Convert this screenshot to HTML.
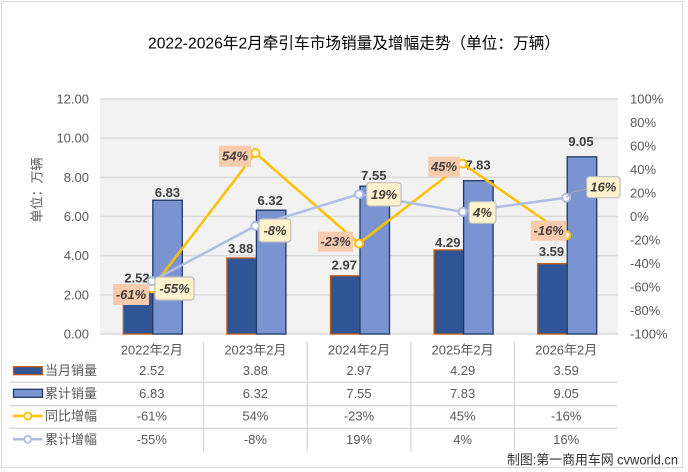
<!DOCTYPE html>
<html><head><meta charset="utf-8"><style>
html,body{margin:0;padding:0;background:#fff;}
svg{display:block;}
text{font-family:"Liberation Sans","Noto Sans CJK SC",sans-serif;}
</style></head><body>
<svg width="688" height="472" viewBox="0 0 688 472" xmlns="http://www.w3.org/2000/svg">
<rect x="0" y="0" width="688" height="472" fill="#fff"/>
<rect x="1.5" y="1.5" width="681" height="466" fill="#fff" stroke="#D9D9D9" stroke-width="1"/>
<!-- title -->
<text x="148" y="44" font-size="16" fill="#000" dominant-baseline="central" textLength="412" lengthAdjust="spacingAndGlyphs">2022-2026年2月牵引车市场销量及增幅走势（单位：万辆）</text>
<!-- plot bg -->
<rect x="100" y="99" width="518" height="235" fill="#F2F2F2"/>
<g stroke="#D9D9D9" stroke-width="1.5">
<line x1="100" y1="99" x2="618" y2="99"/>
<line x1="100" y1="138.17" x2="618" y2="138.17"/>
<line x1="100" y1="177.33" x2="618" y2="177.33"/>
<line x1="100" y1="216.5" x2="618" y2="216.5"/>
<line x1="100" y1="255.67" x2="618" y2="255.67"/>
<line x1="100" y1="294.83" x2="618" y2="294.83"/>
<line x1="100" y1="334" x2="618" y2="334"/>
</g>
<!-- left axis labels -->
<g font-size="13" fill="#595959" text-anchor="end" dominant-baseline="central">
<text x="89" y="99">12.00</text>
<text x="89" y="138.17">10.00</text>
<text x="89" y="177.33">8.00</text>
<text x="89" y="216.5">6.00</text>
<text x="89" y="255.67">4.00</text>
<text x="89" y="294.83">2.00</text>
<text x="89" y="334">0.00</text>
</g>
<!-- right axis labels -->
<g font-size="13" fill="#595959" dominant-baseline="central">
<text x="630" y="99">100%</text>
<text x="630" y="122.5">80%</text>
<text x="630" y="146">60%</text>
<text x="630" y="169.5">40%</text>
<text x="630" y="193">20%</text>
<text x="630" y="216.5">0%</text>
<text x="630" y="240">-20%</text>
<text x="630" y="263.5">-40%</text>
<text x="630" y="287">-60%</text>
<text x="630" y="310.5">-80%</text>
<text x="630" y="334">-100%</text>
</g>
<!-- y axis title -->
<text transform="translate(37,190) rotate(-90)" font-size="13" fill="#595959" text-anchor="middle" dominant-baseline="central">单位：万辆</text>
<!-- bars dark -->
<g fill="#2F5597" stroke="#C55A11" stroke-width="1.3">
<rect x="123.3" y="284.65" width="29.5" height="49.35"/>
<rect x="226.9" y="258.0" width="29.5" height="76"/>
<rect x="330.5" y="275.8" width="29.5" height="58.2"/>
<rect x="434.1" y="250.0" width="29.5" height="84"/>
<rect x="537.7" y="263.7" width="29.5" height="70.3"/>
</g>
<!-- bars light -->
<g fill="#7A93D1" stroke="#1F3864" stroke-width="1.3">
<rect x="152.8" y="200.25" width="29.5" height="133.75"/>
<rect x="256.4" y="210.2" width="29.5" height="123.8"/>
<rect x="360" y="186.15" width="29.5" height="147.85"/>
<rect x="463.6" y="180.7" width="29.5" height="153.3"/>
<rect x="567.2" y="156.8" width="29.5" height="177.2"/>
</g>
<!-- bar value labels -->
<g font-size="13" font-weight="bold" fill="#404040" text-anchor="middle" dominant-baseline="central">
<text x="137" y="278">2.52</text>
<text x="167.5" y="192.3">6.83</text>
<text x="240.7" y="248.3">3.88</text>
<text x="270.2" y="200.7">6.32</text>
<text x="344.3" y="265">2.97</text>
<text x="373.8" y="175.7">7.55</text>
<text x="447.8" y="242.3">4.29</text>
<text x="478" y="165">7.83</text>
<text x="551.5" y="251.7">3.59</text>
<text x="581" y="141.7">9.05</text>
</g>
<!-- yoy line -->
<polyline points="151.8,288.2 255.4,153.05 359,243.5 462.6,163.6 566.2,235.3" fill="none" stroke="#FFC000" stroke-width="2.5" stroke-linejoin="round"/>
<g fill="#fff" stroke="#FFC000" stroke-width="2">
<circle cx="151.8" cy="288.2" r="4"/>
<circle cx="255.4" cy="153.05" r="4"/>
<circle cx="359" cy="243.5" r="4"/>
<circle cx="462.6" cy="163.6" r="4"/>
<circle cx="566.2" cy="235.3" r="4"/>
</g>
<!-- cumulative line -->
<polyline points="151.8,281.1 255.4,225.9 359,194.2 462.6,211.8 566.2,197.7" fill="none" stroke="#AFBDE3" stroke-width="2.5" stroke-linejoin="round"/>
<g fill="#fff" stroke="#AFBDE3" stroke-width="2">
<circle cx="151.8" cy="281.1" r="4"/>
<circle cx="255.4" cy="225.9" r="4"/>
<circle cx="359" cy="194.2" r="4"/>
<circle cx="462.6" cy="211.8" r="4"/>
<circle cx="566.2" cy="197.7" r="4"/>
</g>
<!-- leader line for 16% -->
<polyline points="566.2,197.7 573.3,191.7 587,189" fill="none" stroke="#A6A6A6" stroke-width="1"/>
<!-- yoy labels -->
<g fill="#F8CBAD">
<rect x="113" y="284" width="36" height="21"/>
<rect x="219" y="145.7" width="32" height="21"/>
<rect x="318" y="231.7" width="35" height="20"/>
<rect x="428.3" y="156.7" width="31.7" height="20"/>
<rect x="530.7" y="220.7" width="36" height="20"/>
</g>
<g fill="#FFF2CC" stroke="#BFBFBF" stroke-width="1.2">
<rect x="155" y="277" width="39" height="23" rx="3"/>
<rect x="259" y="219" width="31.7" height="23" rx="3"/>
<rect x="366.7" y="182.7" width="34.3" height="23.3" rx="3"/>
<rect x="469" y="201.7" width="27" height="21.6" rx="3"/>
<rect x="586.7" y="176.7" width="33.3" height="21" rx="3"/>
</g>
<g font-size="13" font-weight="bold" font-style="italic" fill="#404040" text-anchor="middle" dominant-baseline="central">
<text x="131" y="294.5">-61%</text>
<text x="235" y="156.2">54%</text>
<text x="335.5" y="241.7">-23%</text>
<text x="444" y="166.7">45%</text>
<text x="548.7" y="230.7">-16%</text>
<text x="174.5" y="288.5">-55%</text>
<text x="275" y="230.5">-8%</text>
<text x="384" y="194.3">19%</text>
<text x="482.5" y="212.5">4%</text>
<text x="603.3" y="187.2">16%</text>
</g>
<!-- table grid -->
<g stroke="#D9D9D9" stroke-width="1.3">
<line x1="9" y1="382.3" x2="617" y2="382.3"/>
<line x1="9" y1="405.7" x2="617" y2="405.7"/>
<line x1="9" y1="428.3" x2="617" y2="428.3"/>
<line x1="203.6" y1="341.7" x2="203.6" y2="451.7"/>
<line x1="307.2" y1="341.7" x2="307.2" y2="451.7"/>
<line x1="410.8" y1="341.7" x2="410.8" y2="451.7"/>
<line x1="514.4" y1="341.7" x2="514.4" y2="451.7"/>
</g>
<!-- legend keys -->
<rect x="13.5" y="366.7" width="29" height="8" fill="#2F5597" stroke="#C55A11" stroke-width="1.3"/>
<rect x="13.5" y="389.3" width="29" height="8" fill="#7A93D1" stroke="#1F3864" stroke-width="1.3"/>
<line x1="13" y1="416" x2="42.5" y2="416" stroke="#FFC000" stroke-width="2.5"/>
<circle cx="27.7" cy="416" r="3.5" fill="#fff" stroke="#FFC000" stroke-width="1.8"/>
<line x1="13" y1="439.3" x2="42.5" y2="439.3" stroke="#AFBDE3" stroke-width="2.5"/>
<circle cx="27.7" cy="439.3" r="3.5" fill="#fff" stroke="#AFBDE3" stroke-width="1.8"/>
<g font-size="13" fill="#595959" dominant-baseline="central">
<text x="45" y="370.7">当月销量</text>
<text x="45" y="393.3">累计销量</text>
<text x="45" y="416">同比增幅</text>
<text x="45" y="439.3">累计增幅</text>
</g>
<!-- table values -->
<g font-size="13" fill="#595959" text-anchor="middle" dominant-baseline="central">
<text x="151.8" y="350">2022年2月</text>
<text x="255.4" y="350">2023年2月</text>
<text x="359" y="350">2024年2月</text>
<text x="462.6" y="350">2025年2月</text>
<text x="566.2" y="350">2026年2月</text>
<text x="151.8" y="370.7">2.52</text>
<text x="255.4" y="370.7">3.88</text>
<text x="359" y="370.7">2.97</text>
<text x="462.6" y="370.7">4.29</text>
<text x="566.2" y="370.7">3.59</text>
<text x="151.8" y="393.3">6.83</text>
<text x="255.4" y="393.3">6.32</text>
<text x="359" y="393.3">7.55</text>
<text x="462.6" y="393.3">7.83</text>
<text x="566.2" y="393.3">9.05</text>
<text x="151.8" y="416">-61%</text>
<text x="255.4" y="416">54%</text>
<text x="359" y="416">-23%</text>
<text x="462.6" y="416">45%</text>
<text x="566.2" y="416">-16%</text>
<text x="151.8" y="439.3">-55%</text>
<text x="255.4" y="439.3">-8%</text>
<text x="359" y="439.3">19%</text>
<text x="462.6" y="439.3">4%</text>
<text x="566.2" y="439.3">16%</text>
</g>
<!-- watermark -->
<text x="507" y="460" font-size="13.5" fill="#333" dominant-baseline="central" textLength="171" lengthAdjust="spacingAndGlyphs">制图:第一商用车网 cvworld.cn</text>
</svg>
</body></html>
